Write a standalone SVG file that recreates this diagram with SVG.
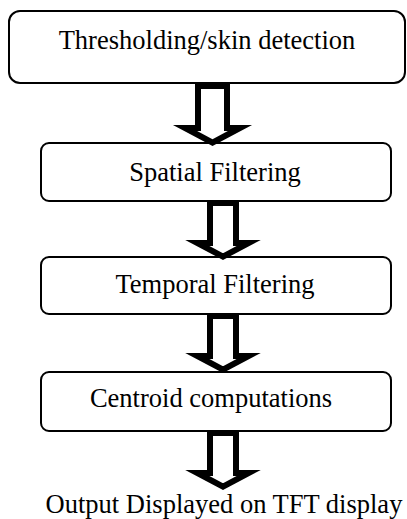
<svg xmlns="http://www.w3.org/2000/svg" width="407" height="519" viewBox="0 0 407 519">
<style>
.box{fill:#fff;stroke:#000;stroke-width:2}
.arr{fill:#fff;stroke:#000;stroke-width:6;stroke-linejoin:miter;stroke-miterlimit:10}
text{font-family:"Liberation Serif","Times New Roman",serif;font-size:26.5px;fill:#000;text-anchor:middle}
</style>
<rect width="407" height="519" fill="#fff"/>
<g id="n1"><rect class="box" x="9" y="11" width="396" height="72" rx="11"/><text x="207" y="49">Thresholding/skin detection</text></g>
<g id="n2"><rect class="box" x="41" y="143" width="350" height="58" rx="8"/><text x="215" y="181">Spatial Filtering</text></g>
<g id="n3"><rect class="box" x="41" y="257" width="350" height="57" rx="8"/><text x="215" y="293">Temporal Filtering</text></g>
<g id="n4"><rect class="box" x="41" y="372" width="350" height="59" rx="8"/><text x="211" y="407">Centroid computations</text></g>
<g id="n5"><text x="224" y="513">Output Displayed on TFT display</text></g>
<g id="connectors">
<path class="arr" d="M198,86 H227 V128 H240 L212.5,142.6 L185,128 H198 Z"/>
<path class="arr" d="M210,203 H236 V243 H248.7 L223,256.6 L197.3,243 H210 Z"/>
<path class="arr" d="M210,316 H236 V356 H248.7 L223,369.6 L197.3,356 H210 Z"/>
<path class="arr" d="M210,433 H236 V473 H248.7 L223,486.6 L197.3,473 H210 Z"/>
</g>
</svg>
